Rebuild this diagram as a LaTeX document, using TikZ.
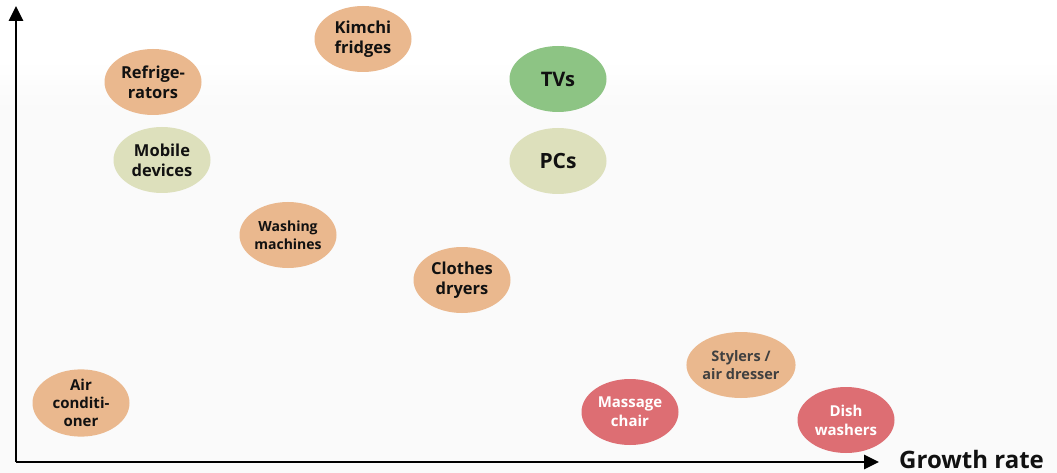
\documentclass[tikz,border=0pt]{standalone}
\usepackage{fontspec}
\setmainfont{Open Sans}
\usetikzlibrary{shapes.geometric,arrows.meta}
\definecolor{bgc}{HTML}{FAFAFA}
\definecolor{orangec}{HTML}{EAB88E}
\definecolor{greenc}{HTML}{8DC484}
\definecolor{paleg}{HTML}{DDE0BC}
\definecolor{redc}{HTML}{DD6E73}
\definecolor{txt}{HTML}{111111}
\tikzset{
  blob/.style={ellipse, minimum width=97pt, minimum height=66pt, inner sep=0pt,
    align=center, text=txt, font=\bfseries\fontsize{16.5}{20}\selectfont},
  orangeblob/.style={blob, fill=orangec},
  greenblob/.style={blob, fill=greenc},
  paleblob/.style={blob, fill=paleg},
  redblob/.style={blob, fill=redc, text=white},
  axis/.style={line width=2.6pt, -{Triangle[length=15pt,width=14pt]}},
}
\begin{document}
\begin{tikzpicture}[x=1pt,y=-1pt]
\useasboundingbox (0,0) rectangle (1057,473);
\fill[bgc] (0,0) rectangle (1057,473);
\fill[white] (0,0) rectangle (1057,60);
\shade[top color=white, bottom color=bgc] (0,60) rectangle (1057,110);

\coordinate (origin) at (16,462);
\coordinate (ytip) at (16,6);
\coordinate (xtip) at (879,462);
\draw[axis] (origin) -- (ytip);
\draw[axis] (origin) -- (xtip);
\node[anchor=base west, inner sep=0pt, text=txt, font=\bfseries\fontsize{24}{28}\selectfont] (xlabel) at (899,468) {Growth rate};

\node[orangeblob] (kimchi) at (363,39) {Kimchi\\fridges};
\node[orangeblob] (fridge) at (153,82) {Refrige-\\rators};
\node[paleblob] (mobile) at (162,160) {Mobile\\devices};
\node[orangeblob, font=\bfseries\fontsize{14}{18}\selectfont] (washing) at (288,235) {Washing\\machines};
\node[greenblob, font=\bfseries\fontsize{20}{24}\selectfont] (tvs) at (558,79) {TVs};
\node[paleblob, font=\bfseries\fontsize{21}{24}\selectfont] (pcs) at (558,161) {PCs};
\node[orangeblob] (dryers) at (462,280) {Clothes\\dryers};
\node[orangeblob, minimum width=102pt, text=black!75, font=\fontsize{14.5}{18.5}\selectfont\bfseries] (stylers) at (741,365) {Stylers /\\air dresser};
\node[redblob, font=\bfseries\fontsize{15}{19}\selectfont] (massage) at (630,412) {Massage\\chair};
\node[redblob, font=\bfseries\fontsize{15}{19}\selectfont] (dish) at (846,420) {Dish\\washers};
\node[orangeblob, font=\bfseries\fontsize{15}{18}\selectfont] (aircon) at (81,403) {Air\\conditi-\\oner};
\end{tikzpicture}
\end{document}
